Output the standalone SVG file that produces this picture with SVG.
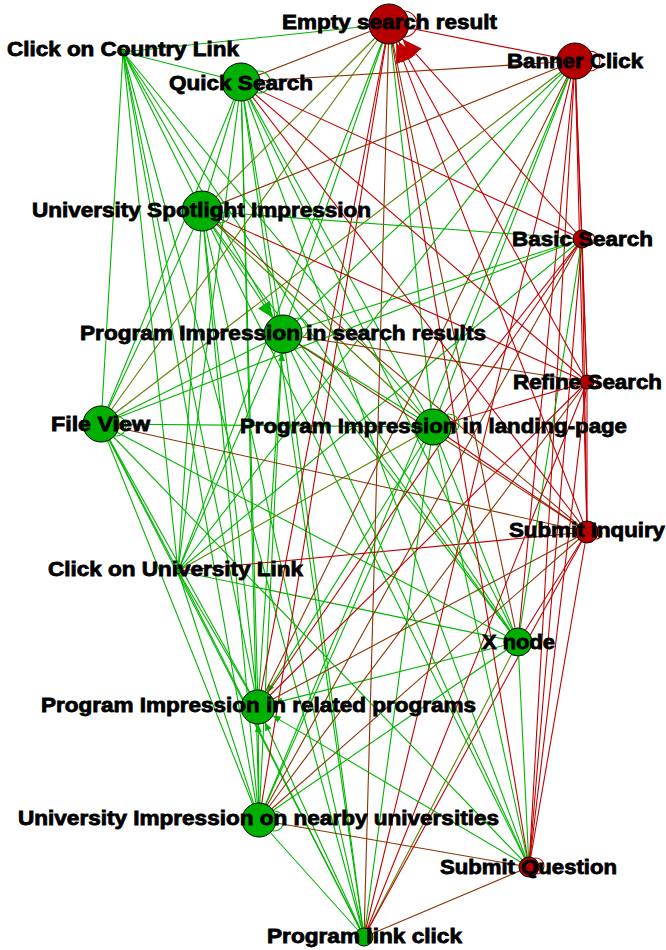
<svg xmlns="http://www.w3.org/2000/svg" width="666" height="950" viewBox="0 0 666 950">
<style>
line{stroke-width:1.1;fill:none}
.g{stroke:#00b400}
.r{stroke:#c00000}
.b{stroke:#8c3200}
.o{stroke:#5a8200}
.lg{fill:none;stroke:#00b400;stroke-width:1.1}
.lr{fill:none;stroke:#c00000;stroke-width:1.1}
.ng{fill:#00b000;stroke:#000;stroke-width:1}
.nr{fill:#b40000;stroke:#000;stroke-width:1}
text{font-family:"Liberation Sans",Arial,sans-serif;font-weight:bold;font-size:20px;text-anchor:middle;fill:#000;stroke:#000;stroke-width:0.8}
</style>
<defs>
<marker id="abr" markerUnits="userSpaceOnUse" markerWidth="22" markerHeight="16" refX="20" refY="8" orient="auto"><path d="M0,0 L20,8 L0,16 Z" fill="#c00000"/></marker>
<marker id="abg" markerUnits="userSpaceOnUse" markerWidth="18" markerHeight="14" refX="16" refY="7" orient="auto"><path d="M0,0 L16,7 L0,14 Z" fill="#00b400"/></marker>
<marker id="asg" markerUnits="userSpaceOnUse" markerWidth="9" markerHeight="7" refX="8" refY="3.5" orient="auto"><path d="M0,0 L8,3.5 L0,7 Z" fill="#00b400"/></marker>
</defs>
<rect width="666" height="950" fill="#fff"/>
<g id="connectors">
<line class="g" x1="123" y1="52" x2="241" y2="82"/>
<line class="g" x1="123" y1="52" x2="202" y2="211"/>
<line class="g" x1="123" y1="52" x2="283" y2="334"/>
<line class="g" x1="123" y1="52" x2="101" y2="424"/>
<line class="g" x1="123" y1="52" x2="433" y2="427"/>
<line class="g" x1="123" y1="52" x2="178" y2="571"/>
<line class="g" x1="123" y1="52" x2="518" y2="642"/>
<line class="g" x1="123" y1="52" x2="258" y2="707"/>
<line class="g" x1="123" y1="52" x2="259" y2="820"/>
<line class="g" x1="123" y1="52" x2="364" y2="937"/>
<line class="g" x1="241" y1="82" x2="202" y2="211"/>
<line class="g" x1="241" y1="82" x2="283" y2="334"/>
<line class="g" x1="241" y1="82" x2="101" y2="424"/>
<line class="g" x1="241" y1="82" x2="433" y2="427"/>
<line class="g" x1="241" y1="82" x2="178" y2="571"/>
<line class="g" x1="241" y1="82" x2="518" y2="642"/>
<line class="g" x1="241" y1="82" x2="258" y2="707"/>
<line class="g" x1="241" y1="82" x2="259" y2="820"/>
<line class="g" x1="241" y1="82" x2="364" y2="937"/>
<line class="g" x1="202" y1="211" x2="272.6" y2="318" marker-end="url(#abg)"/>
<line class="g" x1="202" y1="211" x2="101" y2="424"/>
<line class="o" x1="202" y1="211" x2="433" y2="427"/>
<line class="g" x1="202" y1="211" x2="178" y2="571"/>
<line class="g" x1="202" y1="211" x2="518" y2="642"/>
<line class="g" x1="202" y1="211" x2="258" y2="707"/>
<line class="g" x1="202" y1="211" x2="259" y2="820"/>
<line class="g" x1="202" y1="211" x2="364" y2="937"/>
<line class="g" x1="283" y1="334" x2="101" y2="424"/>
<line class="g" x1="283" y1="334" x2="433" y2="427"/>
<line class="g" x1="283" y1="334" x2="178" y2="571"/>
<line class="g" x1="283" y1="334" x2="518" y2="642"/>
<line class="g" x1="283" y1="334" x2="258" y2="707"/>
<line class="g" x1="259" y1="820" x2="282" y2="353" marker-end="url(#asg)"/>
<line class="g" x1="283" y1="334" x2="364" y2="937"/>
<line class="g" x1="101" y1="424" x2="433" y2="427"/>
<line class="g" x1="101" y1="424" x2="178" y2="571"/>
<line class="g" x1="101" y1="424" x2="518" y2="642"/>
<line class="g" x1="101" y1="424" x2="258" y2="707"/>
<line class="g" x1="101" y1="424" x2="259" y2="820"/>
<line class="g" x1="101" y1="424" x2="364" y2="937"/>
<line class="o" x1="433" y1="427" x2="178" y2="571"/>
<line class="g" x1="433" y1="427" x2="518" y2="642"/>
<line class="g" x1="433" y1="427" x2="267" y2="692.6" marker-end="url(#asg)"/>
<line class="g" x1="433" y1="427" x2="259" y2="820"/>
<line class="g" x1="433" y1="427" x2="364" y2="937"/>
<line class="g" x1="178" y1="571" x2="518" y2="642"/>
<line class="g" x1="178" y1="571" x2="258" y2="707"/>
<line class="g" x1="178" y1="571" x2="259" y2="820"/>
<line class="g" x1="178" y1="571" x2="364" y2="937"/>
<line class="g" x1="518" y1="642" x2="274.5" y2="702.9" marker-end="url(#asg)"/>
<line class="g" x1="518" y1="642" x2="259" y2="820"/>
<line class="o" x1="518" y1="642" x2="364" y2="937"/>
<line class="g" x1="259" y1="820" x2="258.2" y2="724" marker-end="url(#asg)"/>
<line class="g" x1="364" y1="937" x2="265.1" y2="722.5" marker-end="url(#asg)"/>
<line class="g" x1="259" y1="820" x2="364" y2="937"/>
<line class="r" x1="389" y1="24" x2="575" y2="61"/>
<line class="r" x1="389" y1="24" x2="529" y2="867"/>
<line class="r" x1="575" y1="61" x2="582" y2="239"/>
<line class="r" x1="575" y1="61" x2="587" y2="382"/>
<line class="r" x1="575" y1="61" x2="587" y2="532"/>
<line class="r" x1="575" y1="61" x2="529" y2="867"/>
<line class="r" x1="582" y1="239" x2="587" y2="382"/>
<line class="r" x1="582" y1="239" x2="587" y2="532"/>
<line class="r" x1="582" y1="239" x2="529" y2="867"/>
<line class="r" x1="587" y1="382" x2="587" y2="532"/>
<line class="r" x1="587" y1="382" x2="529" y2="867"/>
<line class="r" x1="587" y1="532" x2="529" y2="867"/>
<line class="g" x1="389" y1="24" x2="123" y2="52"/>
<line class="b" x1="389" y1="24" x2="241" y2="82"/>
<line class="o" x1="389" y1="24" x2="202" y2="211"/>
<line class="g" x1="389" y1="24" x2="283" y2="334"/>
<line class="o" x1="389" y1="24" x2="101" y2="424"/>
<line class="g" x1="389" y1="24" x2="433" y2="427"/>
<line class="g" x1="389" y1="24" x2="178" y2="571"/>
<line class="b" x1="389" y1="24" x2="518" y2="642"/>
<line class="r" x1="389" y1="24" x2="258" y2="707"/>
<line class="r" x1="389" y1="24" x2="259" y2="820"/>
<line class="b" x1="389" y1="24" x2="364" y2="937"/>
<line class="b" x1="575" y1="61" x2="241" y2="82"/>
<line class="b" x1="575" y1="61" x2="202" y2="211"/>
<line class="g" x1="575" y1="61" x2="283" y2="334"/>
<line class="o" x1="575" y1="61" x2="101" y2="424"/>
<line class="g" x1="575" y1="61" x2="433" y2="427"/>
<line class="g" x1="575" y1="61" x2="178" y2="571"/>
<line class="r" x1="575" y1="61" x2="518" y2="642"/>
<line class="b" x1="575" y1="61" x2="258" y2="707"/>
<line class="g" x1="575" y1="61" x2="259" y2="820"/>
<line class="r" x1="575" y1="61" x2="364" y2="937"/>
<line class="r" x1="582" y1="239" x2="241" y2="82"/>
<line class="g" x1="582" y1="239" x2="202" y2="211"/>
<line class="g" x1="582" y1="239" x2="283" y2="334"/>
<line class="g" x1="582" y1="239" x2="101" y2="424"/>
<line class="r" x1="582" y1="239" x2="433" y2="427"/>
<line class="g" x1="582" y1="239" x2="178" y2="571"/>
<line class="g" x1="582" y1="239" x2="518" y2="642"/>
<line class="r" x1="582" y1="239" x2="258" y2="707"/>
<line class="b" x1="582" y1="239" x2="259" y2="820"/>
<line class="r" x1="587" y1="382" x2="241" y2="82"/>
<line class="r" x1="587" y1="382" x2="202" y2="211"/>
<line class="b" x1="587" y1="382" x2="283" y2="334"/>
<line class="r" x1="587" y1="382" x2="433" y2="427"/>
<line class="r" x1="587" y1="382" x2="258" y2="707"/>
<line class="b" x1="587" y1="382" x2="259" y2="820"/>
<line class="r" x1="587" y1="382" x2="364" y2="937"/>
<line class="r" x1="587" y1="532" x2="241" y2="82"/>
<line class="b" x1="587" y1="532" x2="202" y2="211"/>
<line class="b" x1="587" y1="532" x2="283" y2="334"/>
<line class="b" x1="587" y1="532" x2="101" y2="424"/>
<line class="r" x1="587" y1="532" x2="433" y2="427"/>
<line class="r" x1="587" y1="532" x2="178" y2="571"/>
<line class="r" x1="587" y1="532" x2="518" y2="642"/>
<line class="b" x1="587" y1="532" x2="258" y2="707"/>
<line class="b" x1="587" y1="532" x2="259" y2="820"/>
<line class="r" x1="587" y1="532" x2="364" y2="937"/>
<line class="g" x1="529" y1="867" x2="241" y2="82"/>
<line class="g" x1="529" y1="867" x2="202" y2="211"/>
<line class="g" x1="529" y1="867" x2="283" y2="334"/>
<line class="g" x1="529" y1="867" x2="101" y2="424"/>
<line class="g" x1="529" y1="867" x2="433" y2="427"/>
<line class="g" x1="529" y1="867" x2="518" y2="642"/>
<line class="g" x1="529" y1="867" x2="272.6" y2="715.6" marker-end="url(#asg)"/>
<line class="b" x1="529" y1="867" x2="259" y2="820"/>
<line class="b" x1="529" y1="867" x2="364" y2="937"/>
<line class="r" x1="582" y1="239" x2="402.4" y2="38.9" marker-end="url(#abr)"/>
<line class="r" x1="587" y1="382" x2="398.7" y2="41.5" marker-end="url(#abr)"/>
<line class="r" x1="587" y1="532" x2="396.3" y2="42.6" marker-end="url(#abr)"/>
<circle class="lr" cx="404" cy="24" r="13"/>
<circle class="lr" cx="590" cy="61" r="10"/>
<circle class="lg" cx="259" cy="82" r="11"/>
<circle class="lg" cx="220" cy="213" r="10"/>
<circle class="lg" cx="298" cy="328" r="10"/>
<circle class="lg" cx="116" cy="426" r="10"/>
<circle class="lg" cx="449" cy="424" r="10"/>
<circle class="lr" cx="589" cy="239" r="6"/>
<circle class="lr" cx="593" cy="382" r="5"/>
<circle class="lr" cx="596" cy="533" r="6"/>
<circle class="lg" cx="274" cy="821" r="10"/>
<circle class="lr" cx="536" cy="866" r="8"/>
</g>
<g id="node-empty-search-result"><circle class="nr" cx="389" cy="24" r="20"/><text x="389.5" y="29" textLength="215" lengthAdjust="spacingAndGlyphs">Empty search result</text></g>
<g id="node-banner-click"><circle class="nr" cx="575" cy="61" r="18"/><text x="575" y="68" textLength="136" lengthAdjust="spacingAndGlyphs">Banner Click</text></g>
<g id="node-click-on-country-link"><circle class="ng" cx="123" cy="52" r="3"/><text x="123" y="56" textLength="232" lengthAdjust="spacingAndGlyphs">Click on Country Link</text></g>
<g id="node-quick-search"><circle class="ng" cx="241" cy="82" r="19"/><text x="241" y="90" textLength="144" lengthAdjust="spacingAndGlyphs">Quick Search</text></g>
<g id="node-university-spotlight-impression"><circle class="ng" cx="202" cy="211" r="20"/><text x="201.5" y="217" textLength="339" lengthAdjust="spacingAndGlyphs">University Spotlight Impression</text></g>
<g id="node-basic-search"><circle class="nr" cx="582" cy="239" r="9"/><text x="582.5" y="246" textLength="141" lengthAdjust="spacingAndGlyphs">Basic Search</text></g>
<g id="node-program-impression-search"><circle class="ng" cx="283" cy="334" r="19"/><text x="283" y="340" textLength="406" lengthAdjust="spacingAndGlyphs">Program Impression in search results</text></g>
<g id="node-refine-search"><circle class="nr" cx="587" cy="382" r="7"/><text x="587.5" y="389" textLength="149" lengthAdjust="spacingAndGlyphs">Refine Search</text></g>
<g id="node-file-view"><circle class="ng" cx="101" cy="424" r="18"/><text x="100.5" y="431" textLength="99" lengthAdjust="spacingAndGlyphs">File View</text></g>
<g id="node-program-impression-landing"><circle class="ng" cx="433" cy="427" r="18"/><text x="433.5" y="433" textLength="387" lengthAdjust="spacingAndGlyphs">Program Impression in landing-page</text></g>
<g id="node-submit-inquiry"><circle class="nr" cx="587" cy="532" r="11"/><text x="587" y="537" textLength="156" lengthAdjust="spacingAndGlyphs">Submit Inquiry</text></g>
<g id="node-click-on-university-link"><circle class="ng" cx="178" cy="571" r="3"/><text x="175.5" y="576" textLength="255" lengthAdjust="spacingAndGlyphs">Click on University Link</text></g>
<g id="node-x-node"><circle class="ng" cx="518" cy="642" r="14"/><text x="518.5" y="649" textLength="73" lengthAdjust="spacingAndGlyphs">X node</text></g>
<g id="node-program-impression-related"><circle class="ng" cx="258" cy="707" r="17"/><text x="258.5" y="712" textLength="435" lengthAdjust="spacingAndGlyphs">Program Impression in related programs</text></g>
<g id="node-university-impression-nearby"><circle class="ng" cx="259" cy="820" r="17"/><text x="258.5" y="825" textLength="481" lengthAdjust="spacingAndGlyphs">University Impression on nearby universities</text></g>
<g id="node-submit-question"><circle class="nr" cx="529" cy="867" r="10" stroke-width="1.6"/><text x="528.5" y="874" textLength="177" lengthAdjust="spacingAndGlyphs">Submit Question</text></g>
<g id="node-program-link-click"><circle class="ng" cx="364" cy="937" r="9"/><text x="364.5" y="943" textLength="195" lengthAdjust="spacingAndGlyphs">Program link click</text></g>
</svg>
